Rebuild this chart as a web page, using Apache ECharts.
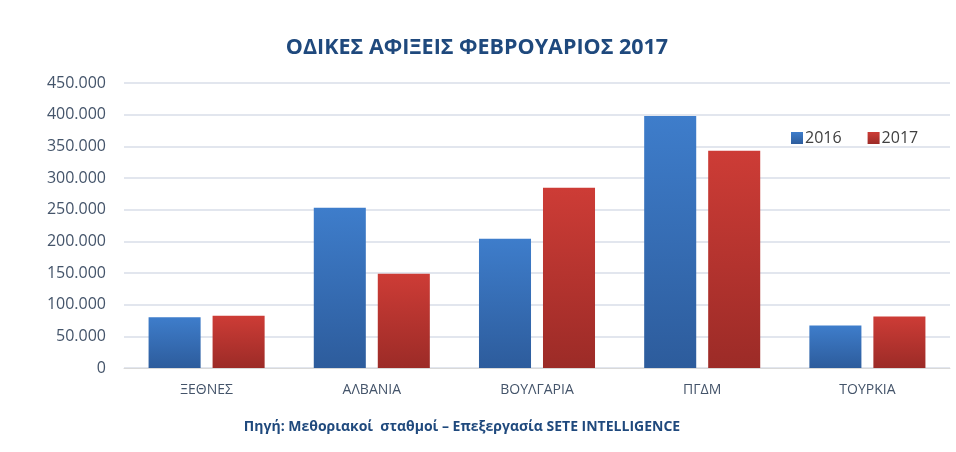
<!DOCTYPE html>
<html><head><meta charset="utf-8">
<script src="https://cdn.jsdelivr.net/npm/echarts@6/dist/echarts.min.js"></script>
<style>html,body{margin:0;padding:0;background:#fff}#c{width:956px;height:452px}</style>
</head><body><div id="c"></div>
<script>
const categories = ['ΞΕΘΝΕΣ', 'ΑΛΒΑΝΙΑ', 'ΒΟΥΛΓΑΡΙΑ', 'ΠΓΔΜ', 'ΤΟΥΡΚΙΑ'];
const seriesNames = ['2016', '2017'];
const values2016 = [80000, 253000, 204000, 398000, 67000];
const values2017 = [82500, 149000, 284500, 343000, 81500];
const yTicks = { min: 0, max: 450000, interval: 50000 };

const chart = echarts.init(document.getElementById('c'), null, {renderer: 'canvas'});
const font = "'Open Sans', 'Liberation Sans', sans-serif";
function grad(top, bottom) {
  return new echarts.graphic.LinearGradient(0, 0, 0, 1, [{offset: 0, color: top}, {offset: 1, color: bottom}]);
}
chart.setOption({
  animation: false,
  backgroundColor: '#ffffff',
  title: {
    text: 'ΟΔΙΚΕΣ ΑΦΙΞΕΙΣ ΦΕΒΡΟΥΑΡΙΟΣ 2017',
    left: 476, top: 32, textAlign: 'center',
    textStyle: {fontFamily: font, fontSize: 21.5, fontWeight: 'bold', color: '#1F497D'}
  },
  legend: {
    data: seriesNames,
    left: 786, top: 125,
    itemWidth: 12, itemHeight: 12, itemGap: 26,
    icon: 'rect',
    textStyle: {fontFamily: font, fontSize: 16, color: '#404040', padding: [0, 0, 0, -3]}
  },
  grid: {left: 124, right: 6, top: 83, bottom: 84, containLabel: false},
  xAxis: {
    type: 'category', data: categories,
    axisLine: {show: true, lineStyle: {color: '#D9D9D9', width: 1}},
    axisTick: {show: false},
    axisLabel: {fontFamily: font, fontSize: 14, color: '#44546A', margin: 15}
  },
  yAxis: {
    type: 'value', min: yTicks.min, max: yTicks.max, interval: yTicks.interval,
    axisLine: {show: false}, axisTick: {show: false},
    splitLine: {lineStyle: {color: '#D9DEE8', width: 1.5}},
    axisLabel: {
      fontFamily: font, fontSize: 16, color: '#44546A', margin: 18,
      formatter: v => v === 0 ? '0' : v.toLocaleString('de-DE')
    }
  },
  series: [
    {
      name: seriesNames[0], type: 'bar', data: values2016,
      barWidth: '31.5%', barGap: '23%',
      itemStyle: {color: grad('#3E7DCB', '#2D5C9C'), shadowColor: 'rgba(0,0,0,0.25)', shadowBlur: 4, shadowOffsetX: 1, shadowOffsetY: 1}
    },
    {
      name: seriesNames[1], type: 'bar', data: values2017,
      barWidth: '31.5%',
      itemStyle: {color: grad('#CD3C36', '#9C2B27'), shadowColor: 'rgba(0,0,0,0.25)', shadowBlur: 4, shadowOffsetX: 1, shadowOffsetY: 1}
    }
  ],
  graphic: [{
    type: 'text', x: 476, y: 32,
    style: {
      text: '',
      fontSize: 1
    }
  }, {
    type: 'text', x: 462, y: 420,
    style: {
      text: 'Πηγή: Μεθοριακοί  σταθμοί – Επεξεργασία SETE INTELLIGENCE',
      align: 'center',
      fontFamily: font, fontSize: 14, fontWeight: 'bold', fill: '#1F497D'
    }
  }]
});
chart.setOption({title: {left: 472}});
</script></body></html>
